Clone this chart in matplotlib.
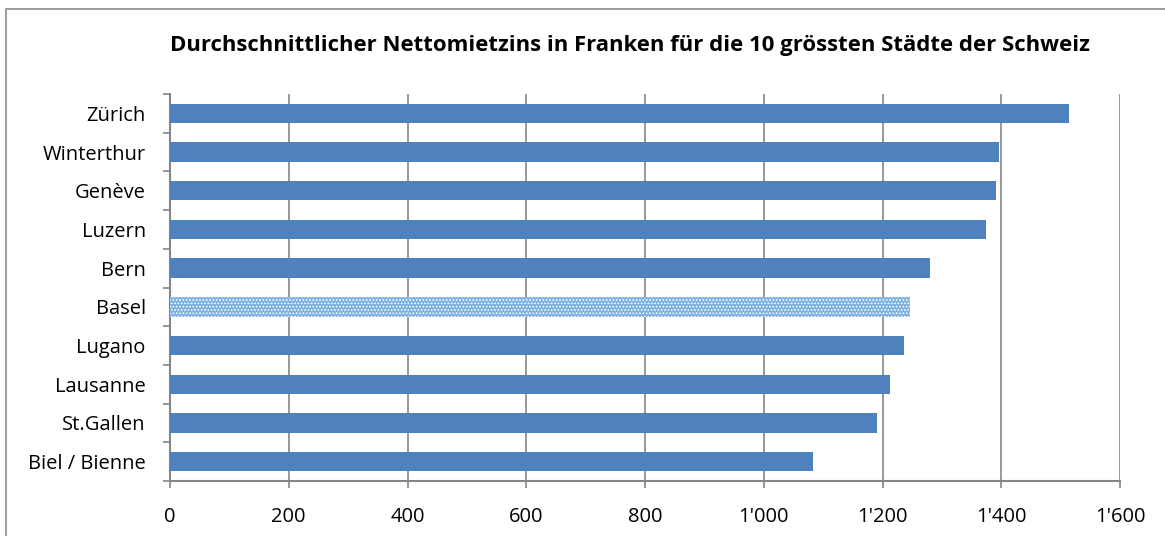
import matplotlib
matplotlib.use("Agg")
import matplotlib.pyplot as plt
from matplotlib.patches import Rectangle
from matplotlib.ticker import FuncFormatter

cities = ["Zürich", "Winterthur", "Genève", "Luzern", "Bern", "Basel",
          "Lugano", "Lausanne", "St.Gallen", "Biel / Bienne"]
rents = [1514, 1396, 1391, 1374, 1280, 1246, 1236, 1213, 1191, 1083]
highlight = "Basel"
title = "Durchschnittlicher Nettomietzins in Franken für die 10 grössten Städte der Schweiz"
xticks = [0, 200, 400, 600, 800, 1000, 1200, 1400, 1600]

plt.rcParams['font.family'] = ['Open Sans', 'DejaVu Sans']
plt.rcParams['hatch.color'] = 'white'
plt.rcParams['hatch.linewidth'] = 0.8

fig = plt.figure(figsize=(11.65, 5.36), dpi=100)
# outer chart frame
fig.patches.append(Rectangle((6/1165, -0.1), 1.2, 1 - 9/536 + 0.1, transform=fig.transFigure,
                             fill=False, edgecolor='#8c8c8c', linewidth=1.2))

ax = fig.add_axes([170/1165, 1 - 481/536, 950/1165, 387/536])
n = len(cities)
ypos = list(range(n))[::-1]
for y, c, v in zip(ypos, cities, rents):
    if c == highlight:
        ax.barh(y, v, height=0.5, color='#7db1e0', hatch='.....', edgecolor='white', linewidth=0, zorder=3)
    else:
        ax.barh(y, v, height=0.5, color='#4f81bd', zorder=3)

ax.set_xlim(0, 1600)
ax.set_ylim(-0.5, n - 0.5)
ax.set_xticks(xticks)
ax.xaxis.set_major_formatter(FuncFormatter(lambda x, p: f"{int(x):,}".replace(",", "'")))
ax.set_yticks(ypos)
ax.set_yticklabels(cities)
ax.set_yticks([i - 0.5 for i in range(n + 1)], minor=True)
ax.tick_params(axis='y', which='major', length=0, pad=17.5, labelsize=14.5)
ax.tick_params(axis='y', which='minor', length=5, color='#868686', width=1.2)
ax.tick_params(axis='x', length=5, color='#868686', width=1.2, labelsize=14.5, pad=14)
ax.grid(axis='x', color='#868686', linewidth=1.2, zorder=0)
for s in ['top', 'right']:
    ax.spines[s].set_visible(False)
for s in ['left', 'bottom']:
    ax.spines[s].set_color('#868686')
    ax.spines[s].set_linewidth(1.5)

fig.text(630/1165, 1 - 46/536, title, ha='center', va='center', fontsize=15.9, fontweight='bold')

fig.savefig("out.png", dpi=100)
